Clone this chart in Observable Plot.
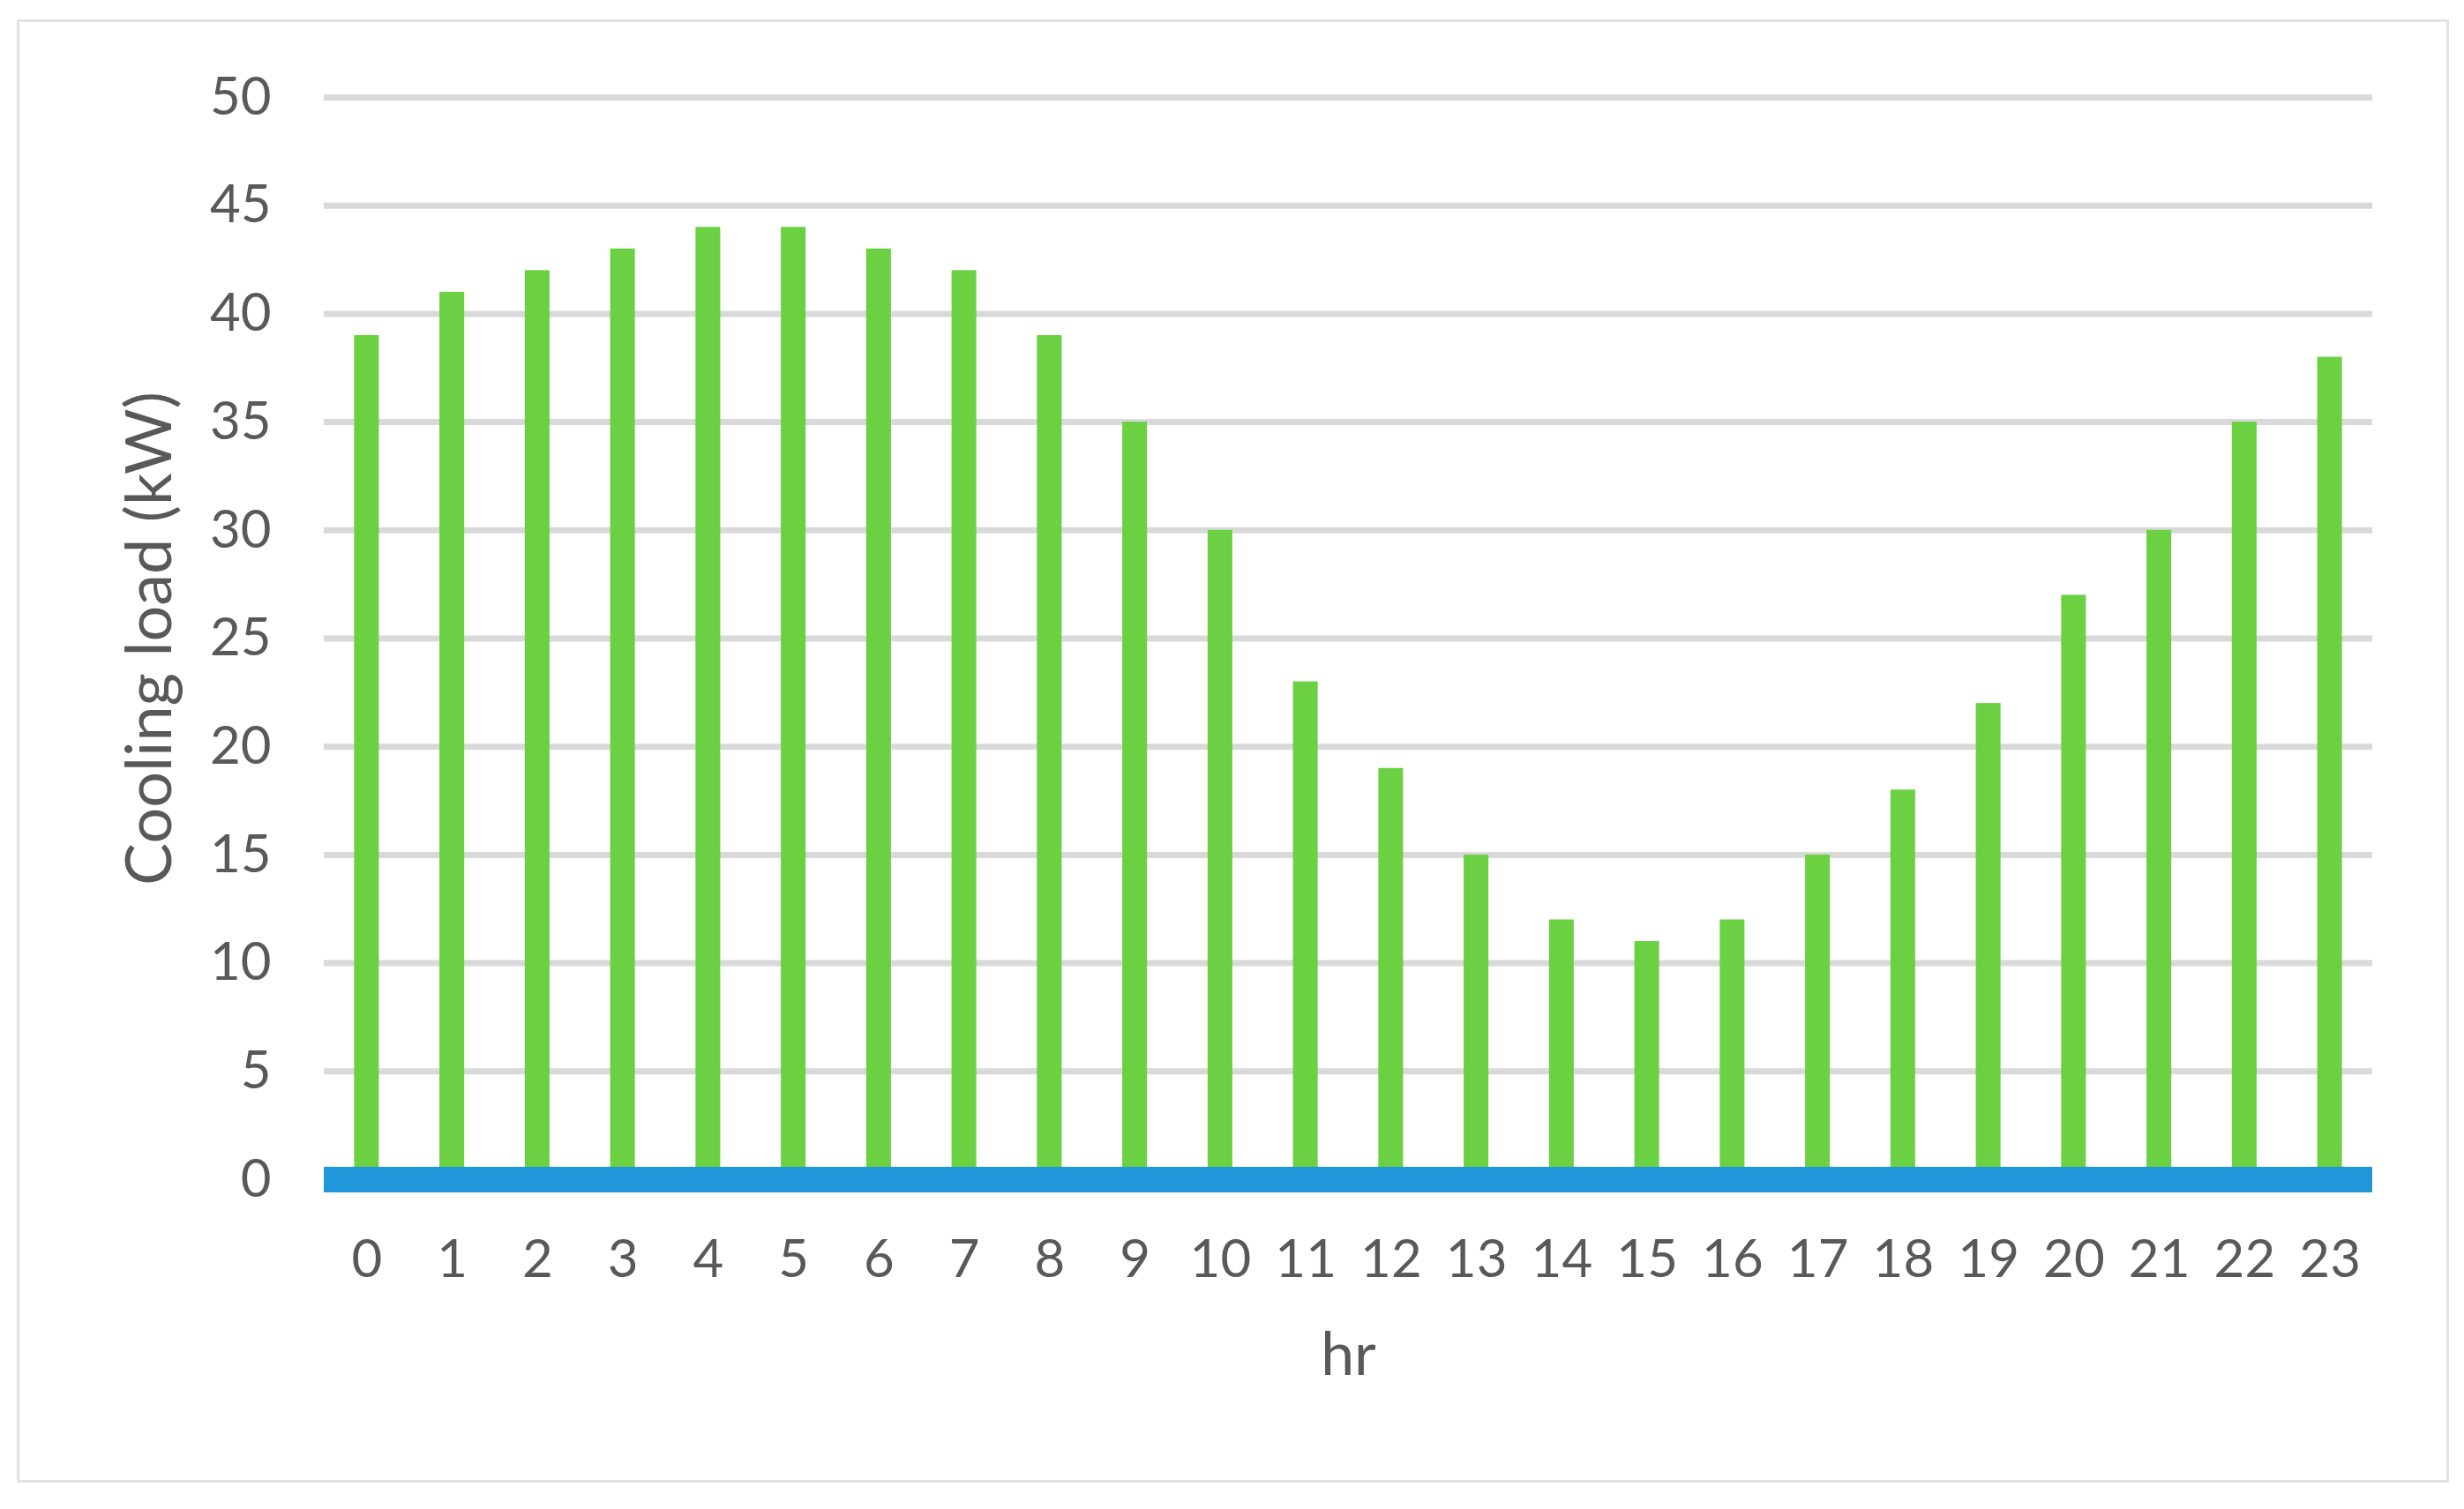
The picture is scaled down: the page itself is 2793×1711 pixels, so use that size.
<!DOCTYPE html>
<html>
<head>
<meta charset="utf-8">
<script src="https://cdn.jsdelivr.net/npm/d3@7"></script>
<script src="https://cdn.jsdelivr.net/npm/@observablehq/plot@0.6"></script>
<style>
  html, body { margin: 0; padding: 0; background: #ffffff; }
  #wrap { position: relative; width: 2793px; height: 1711px; }
  #border { position: absolute; left: 19px; top: 22px; width: 2751px; height: 1653px; border: 3px solid #e2e2e2; box-sizing: content-box; pointer-events: none; }
</style>
</head>
<body>
<div id="wrap"><div id="border"></div><div id="chart"></div></div>
<script>
const hours = ["0","1","2","3","4","5","6","7","8","9","10","11","12","13","14","15","16","17","18","19","20","21","22","23"];
const coolingLoad = [39,41,42,43,44,44,43,42,39,35,30,23,19,15,12,11,12,15,18,22,27,30,35,38];
const baseline = [0];
const yTicks = [0,5,10,15,20,25,30,35,40,45,50];
const xTitle = "hr";
const yTitle = "Cooling load (kW)";

const data = hours.map((h, i) => ({hour: h, load: coolingLoad[i]}));

const chart = Plot.plot({
  width: 2793,
  height: 1711,
  marginLeft: 367,
  marginRight: 104,
  marginTop: 110,
  marginBottom: 374,
  style: {fontFamily: "Lato, 'Open Sans', sans-serif", fontSize: "60px", color: "#595959", background: "transparent"},
  x: {type: "band", domain: hours, paddingInner: 0.71, paddingOuter: 0.355, round: false, label: null},
  y: {domain: [0, 50], label: null},
  marks: [
    Plot.gridY(yTicks, {stroke: "#d9d9d9", strokeOpacity: 1, strokeWidth: 7}),
    Plot.barY(data, {x: "hour", y: "load", fill: "#6bd143"}),
    Plot.ruleY(baseline, {stroke: "#2196da", strokeWidth: 29}),
    Plot.axisY(yTicks, {tickSize: 0, tickPadding: 60, label: null, fill: "#595959"}),
    Plot.axisX({tickSize: 0, tickPadding: 68, label: null, fill: "#595959"}),
    Plot.text([xTitle], {frameAnchor: "bottom", dy: 221, fontSize: 68, fill: "#595959"}),
    Plot.text([yTitle], {frameAnchor: "left", textAnchor: "middle", dx: -197, rotate: -90, fontSize: 72, fill: "#595959"})
  ]
});
document.getElementById("chart").appendChild(chart);
</script>
</body>
</html>
